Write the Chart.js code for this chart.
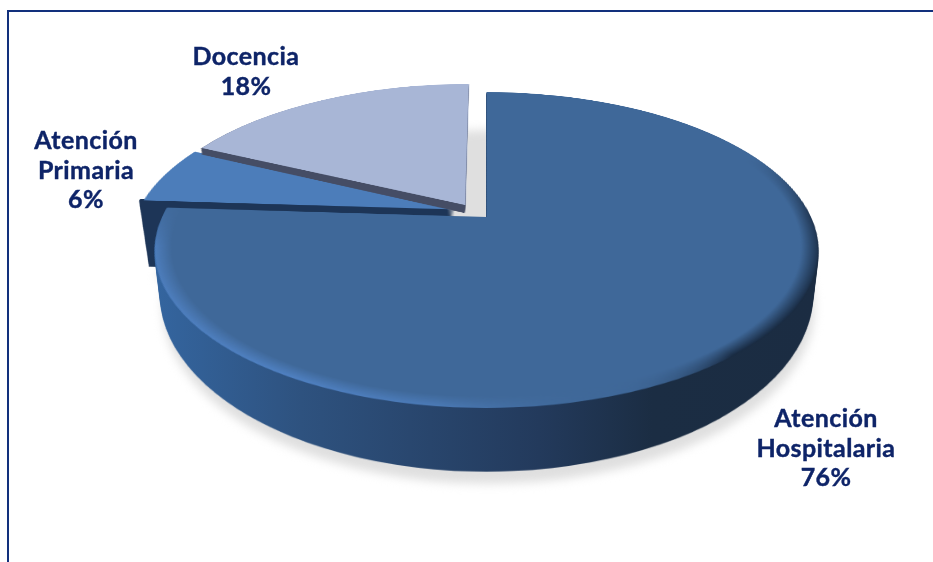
<!DOCTYPE html>
<html lang="es">
  <head>
    <meta charset="utf-8" />
    <title>Pie 3D</title>
    <script src="https://cdn.jsdelivr.net/npm/chart.js"></script>
    <style>
      * {
        margin: 0;
        padding: 0;
      }
      body {
        background: white;
        overflow: hidden;
      }
      .frame {
        position: absolute;
        left: 7px;
        top: 10px;
        right: 0;
        bottom: 0;
        border-top: solid 2px #12307c;
        border-left: solid 2px #12307c;
      }
      canvas {
        position: absolute;
        left: 0;
        top: 0;
      }
    </style>
  </head>
  <body>
    <div class="frame"></div>
    <canvas id="myChart" width="933" height="562"></canvas>

    <script>
      const categories = ["Atención Hospitalaria", "Atención Primaria", "Docencia"];
      const shares = [76, 6, 18];
      const sliceColors = ["#3f6899", "#4c7dba", "#a8b6d6"];

      // where each label block is centred, and the first baseline
      const labelSpots = [
        { x: 826, y: 427 },
        { x: 86, y: 149 },
        { x: 246, y: 65 },
      ];
      const labelFont = "bold 25px Lato";
      const labelColor = "#0e2468";
      const lineGap = 29.5;

      // perspective of the tilted disc: top face and bottom face
      const tilt = 0.209;
      const centreX = 486.5;
      const topFace = { y0: 217, a: 151, k: 324.6 };
      const bottomFace = { y0: 258, a: 169, k: 319 };

      // pull-out of the two small slices, in disc radii
      const pullOut = [
        { u: 0, v: 0 },
        { u: -0.084, v: -0.05 },
        { u: -0.066, v: -0.08 },
      ];
      // how far each wall goes down, 1 = full thickness
      const wallDepth = [1, 1.7, 0.2];
      const wallSteps = [60, 70, 10];
      const wallNudge = [0, -5, -1];
      // walls only show below this row, stops a dark fringe above the slice
      const wallFrom = [0, 199, 0];

      function makeCanvas(size) {
        const c = document.createElement("canvas");
        c.width = size;
        c.height = size;
        return c;
      }

      function layerAt(t) {
        return {
          y0: topFace.y0 + t * (bottomFace.y0 - topFace.y0),
          a: topFace.a + t * (bottomFace.a - topFace.a),
          k: topFace.k + t * (bottomFace.k - topFace.k),
        };
      }

      // row by row copy of the flat disc to the tilted view
      function warp(ctx, disc, R, layer) {
        const size = disc.width;
        const c = size / 2;
        const vTop = -1.16;
        const vBot = 1.02;
        const yTop = Math.floor(layer.y0 + (layer.a * vTop) / (1 - tilt * vTop));
        const yBot = Math.ceil(layer.y0 + (layer.a * vBot) / (1 - tilt * vBot));
        for (let y = yTop; y <= yBot; y++) {
          const d = y - layer.y0;
          const v = d / (layer.a + tilt * d);
          const v2 = (d + 1) / (layer.a + tilt * (d + 1));
          const f = layer.k / (1 - tilt * v) / R;
          ctx.drawImage(disc, 0, c + R * v, size, R * (v2 - v), centreX - c * f, y, size * f, 1);
        }
      }

      function addRim(discCtx, c, R) {
        const ring = makeCanvas(discCtx.canvas.width);
        const rc = ring.getContext("2d");
        const cone = rc.createConicGradient(0, c, c);
        cone.addColorStop(0, "rgba(20,35,55,0.7)");
        cone.addColorStop(0.14, "rgba(20,35,55,0.9)");
        cone.addColorStop(0.2, "rgba(63,104,153,0)");
        cone.addColorStop(0.27, "rgba(80,130,196,0.7)");
        cone.addColorStop(0.33, "rgba(80,130,196,1)");
        cone.addColorStop(0.47, "rgba(80,130,196,0.8)");
        cone.addColorStop(0.53, "rgba(63,104,153,0)");
        cone.addColorStop(0.93, "rgba(20,35,55,0)");
        cone.addColorStop(1, "rgba(20,35,55,0.7)");
        rc.fillStyle = cone;
        rc.fillRect(0, 0, ring.width, ring.height);
        const mask = rc.createRadialGradient(c, c, R * 0.95, c, c, R);
        mask.addColorStop(0, "rgba(0,0,0,0)");
        mask.addColorStop(1, "rgba(0,0,0,1)");
        rc.globalCompositeOperation = "destination-in";
        rc.fillStyle = mask;
        rc.fillRect(0, 0, ring.width, ring.height);
        discCtx.globalCompositeOperation = "source-atop";
        discCtx.drawImage(ring, 0, 0);
        discCtx.globalCompositeOperation = "source-over";
      }

      function wallPaint(ctx, i) {
        if (i === 1) return "#1d3557";
        if (i === 2) return "#454d65";
        const g = ctx.createLinearGradient(155, 0, 818, 0);
        g.addColorStop(0, "#34659f");
        g.addColorStop(0.22, "#2e527f");
        g.addColorStop(0.58, "#233a5c");
        g.addColorStop(0.75, "#1b2d43");
        g.addColorStop(1, "#1b2c42");
        return g;
      }

      const tiltedPie = {
        id: "tiltedPie",
        beforeDatasetsDraw(chart) {
          const ctx = chart.ctx;
          const arcs = chart.getDatasetMeta(0).data;
          const R = arcs[0].outerRadius;
          const pad = Math.round(R * 0.2);
          const size = 2 * (R + pad);
          const c = R + pad;

          const discs = arcs.map((arc, i) => {
            const disc = makeCanvas(size);
            const dc = disc.getContext("2d");
            dc.save();
            dc.translate(c - arc.x + pullOut[i].u * R, c - arc.y + pullOut[i].v * R);
            arc.draw(dc);
            dc.restore();
            if (i === 0) addRim(dc, c, R);
            return disc;
          });

          // the shadow falls from the closed disc, not from the pulled out slices
          const closed = makeCanvas(size);
          const cc = closed.getContext("2d");
          cc.translate(c - arcs[0].x, c - arcs[0].y);
          arcs.forEach((arc) => arc.draw(cc));

          // soft ground shadow under the whole thing
          const shadow = document.createElement("canvas");
          shadow.width = chart.width;
          shadow.height = chart.height + 40;
          const sc = shadow.getContext("2d");
          warp(sc, closed, R, layerAt(1));
          warp(sc, discs[1], R, layerAt(wallDepth[1]));
          sc.globalCompositeOperation = "source-in";
          sc.fillStyle = "#dfdfdf";
          sc.fillRect(0, 0, shadow.width, shadow.height);
          ctx.save();
          ctx.filter = "blur(5px)";
          ctx.drawImage(shadow, 2, 12);
          ctx.restore();

          // back to front
          [1, 2, 0].forEach((i) => {
            const wall = document.createElement("canvas");
            wall.width = chart.width;
            wall.height = chart.height;
            const wc = wall.getContext("2d");
            for (let s = wallSteps[i]; s >= 1; s--) {
              warp(wc, discs[i], R, layerAt((s / wallSteps[i]) * wallDepth[i]));
            }
            wc.globalCompositeOperation = "source-in";
            wc.fillStyle = wallPaint(wc, i);
            wc.fillRect(0, 0, wall.width, wall.height);
            const from = wallFrom[i];
            ctx.drawImage(wall, 0, from, wall.width, wall.height - from, wallNudge[i], from, wall.width, wall.height - from);
            warp(ctx, discs[i], R, layerAt(0));
          });
          return false;
        },
        afterDraw(chart) {
          const ctx = chart.ctx;
          ctx.save();
          ctx.font = labelFont;
          ctx.letterSpacing = "0.4px";
          ctx.fillStyle = labelColor;
          ctx.strokeStyle = labelColor;
          ctx.lineWidth = 0.4;
          ctx.textAlign = "center";
          categories.forEach((name, i) => {
            const lines = name.split(" ").concat(shares[i] + "%");
            lines.forEach((line, n) => {
              ctx.fillText(line, labelSpots[i].x, labelSpots[i].y + n * lineGap);
              ctx.strokeText(line, labelSpots[i].x, labelSpots[i].y + n * lineGap);
            });
          });
          ctx.restore();
        },
      };

      new Chart(document.getElementById("myChart"), {
        type: "pie",
        data: {
          labels: categories,
          datasets: [
            {
              data: shares,
              backgroundColor: sliceColors,
              borderWidth: 0,
            },
          ],
        },
        options: {
          responsive: false,
          animation: false,
          events: [],
          layout: { padding: 0 },
          plugins: {
            legend: { display: false },
            tooltip: { enabled: false },
          },
        },
        plugins: [tiltedPie],
      });
    </script>
  </body>
</html>
